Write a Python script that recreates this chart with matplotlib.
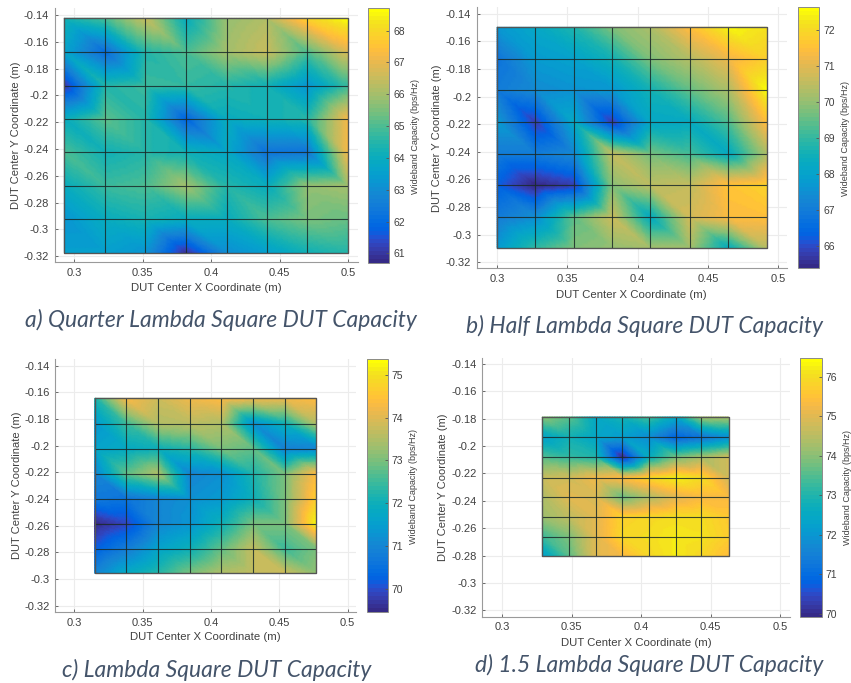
import numpy as np
import matplotlib
matplotlib.use('Agg')
import matplotlib.pyplot as plt
from matplotlib.colors import ListedColormap
from matplotlib.tri import Triangulation, UniformTriRefiner, LinearTriInterpolator

plt.rcParams['font.family'] = ['Liberation Sans', 'DejaVu Sans']

W, H = 851, 683

xticks = [0.3, 0.35, 0.4, 0.45, 0.5]
xticklabels = ['0.3', '0.35', '0.4', '0.45', '0.5']
yticks = [-0.14, -0.16, -0.18, -0.2, -0.22, -0.24, -0.26, -0.28, -0.3, -0.32]
yticklabels = ['-0.14', '-0.16', '-0.18', '-0.2', '-0.22', '-0.24', '-0.26', '-0.28', '-0.3', '-0.32']

# a) quarter lambda
x_a = [0.293, 0.3228, 0.352, 0.3814, 0.4113, 0.4405, 0.4699, 0.4995]
y_a = [-0.1425, -0.1678, -0.1927, -0.2173, -0.2424, -0.2675, -0.2924, -0.3173]
cap_a = [
    [64.3, 65.0, 66.5, 64.0, 65.8, 66.2, 67.9, 68.7],
    [63.6, 62.0, 64.5, 65.0, 66.0, 66.5, 65.0, 66.8],
    [61.0, 64.5, 64.8, 64.7, 64.5, 64.2, 63.2, 64.8],
    [64.0, 65.2, 64.5, 61.8, 64.0, 64.2, 64.5, 67.2],
    [65.0, 64.2, 64.5, 64.2, 63.8, 62.2, 62.3, 67.2],
    [64.0, 64.8, 65.0, 66.0, 64.5, 64.0, 65.8, 66.0],
    [63.2, 64.0, 64.3, 64.0, 64.0, 65.0, 65.5, 65.3],
    [63.5, 63.5, 63.2, 60.9, 63.0, 63.5, 64.2, 64.5],
]

# b) half lambda
x_b = [0.3, 0.3273, 0.3547, 0.382, 0.409, 0.437, 0.4645, 0.4917]
y_b = [-0.1499, -0.1726, -0.1955, -0.2187, -0.2414, -0.2643, -0.2874, -0.3099]
cap_b = [
    [67.7, 68.2, 68.8, 69.8, 70.3, 71.5, 72.5, 72.2],
    [66.8, 67.8, 68.0, 68.6, 69.8, 70.4, 71.2, 71.8],
    [67.0, 67.4, 67.6, 67.7, 68.6, 69.5, 70.3, 72.6],
    [67.8, 65.8, 68.2, 65.8, 68.2, 68.3, 69.3, 71.5],
    [67.0, 67.0, 67.4, 70.6, 69.7, 69.2, 68.3, 70.3],
    [66.3, 65.4, 65.8, 69.9, 70.5, 70.6, 71.6, 71.9],
    [67.0, 67.5, 69.5, 70.7, 68.3, 70.8, 71.4, 71.5],
    [67.8, 69.0, 69.8, 70.0, 70.2, 70.2, 68.3, 70.4],
]

# c) lambda
x_c = [0.3149, 0.338, 0.3612, 0.3844, 0.4076, 0.431, 0.4539, 0.4771]
y_c = [-0.1645, -0.1835, -0.2022, -0.221, -0.2398, -0.2585, -0.2772, -0.2958]
cap_c = [
    [72.2, 74.3, 73.8, 74.2, 74.4, 74.2, 74.2, 74.4],
    [71.4, 72.5, 73.5, 73.6, 73.5, 71.2, 72.0, 73.5],
    [71.6, 71.8, 72.0, 72.3, 73.0, 72.8, 70.9, 71.0],
    [71.0, 72.8, 73.5, 71.0, 71.2, 72.2, 73.0, 74.4],
    [70.7, 70.6, 71.0, 71.2, 71.4, 72.0, 73.0, 74.7],
    [69.5, 69.9, 71.0, 71.3, 72.0, 73.0, 73.0, 75.3],
    [70.2, 70.8, 71.6, 72.0, 72.8, 73.7, 72.5, 73.0],
    [71.0, 71.8, 72.3, 73.0, 73.5, 73.7, 73.8, 73.2],
]

# d) 1.5 lambda
x_d = [0.329, 0.3484, 0.3673, 0.3865, 0.4054, 0.4248, 0.4432, 0.4629]
y_d = [-0.1789, -0.1938, -0.2081, -0.2232, -0.2373, -0.2516, -0.2662, -0.2806]
cap_d = [
    [74.0, 73.6, 72.5, 72.9, 73.4, 72.5, 74.3, 74.4],
    [72.3, 72.8, 72.4, 72.2, 71.8, 70.8, 71.2, 71.8],
    [73.5, 73.2, 73.0, 70.0, 72.6, 73.8, 74.3, 74.8],
    [74.7, 74.8, 75.2, 75.4, 75.9, 76.3, 76.0, 74.8],
    [74.4, 75.0, 74.9, 73.7, 74.4, 75.0, 75.3, 75.3],
    [74.2, 74.6, 75.0, 75.8, 75.9, 76.0, 76.0, 75.6],
    [73.3, 73.9, 75.0, 75.9, 76.0, 76.2, 76.1, 75.7],
    [72.2, 73.6, 75.0, 75.3, 75.9, 76.2, 75.9, 75.4],
]

captions = ['a) Quarter Lambda Square DUT Capacity',
            'b) Half Lambda Square DUT Capacity',
            'c) Lambda Square DUT Capacity',
            'd) 1.5 Lambda Square DUT Capacity']

parula = ListedColormap([
    [0.2081,0.1663,0.5292],[0.2116,0.1898,0.5777],[0.2123,0.2138,0.6270],[0.2081,0.2386,0.6771],
    [0.1959,0.2645,0.7279],[0.1707,0.2919,0.7792],[0.1253,0.3242,0.8303],[0.0591,0.3598,0.8683],
    [0.0117,0.3875,0.8820],[0.0060,0.4086,0.8828],[0.0165,0.4266,0.8786],[0.0329,0.4430,0.8720],
    [0.0498,0.4586,0.8641],[0.0629,0.4737,0.8554],[0.0723,0.4887,0.8467],[0.0779,0.5040,0.8384],
    [0.0793,0.5200,0.8312],[0.0749,0.5375,0.8263],[0.0641,0.5570,0.8240],[0.0488,0.5772,0.8228],
    [0.0343,0.5966,0.8199],[0.0265,0.6137,0.8135],[0.0239,0.6287,0.8038],[0.0231,0.6418,0.7913],
    [0.0228,0.6535,0.7768],[0.0267,0.6642,0.7607],[0.0384,0.6743,0.7436],[0.0590,0.6838,0.7254],
    [0.0843,0.6928,0.7062],[0.1133,0.7015,0.6859],[0.1453,0.7098,0.6646],[0.1801,0.7177,0.6424],
    [0.2178,0.7250,0.6193],[0.2586,0.7317,0.5954],[0.3022,0.7376,0.5712],[0.3482,0.7424,0.5473],
    [0.3953,0.7459,0.5244],[0.4420,0.7481,0.5033],[0.4871,0.7491,0.4840],[0.5300,0.7491,0.4661],
    [0.5709,0.7485,0.4494],[0.6099,0.7473,0.4337],[0.6473,0.7456,0.4188],[0.6834,0.7435,0.4044],
    [0.7184,0.7411,0.3905],[0.7525,0.7384,0.3768],[0.7858,0.7356,0.3633],[0.8185,0.7327,0.3498],
    [0.8507,0.7299,0.3360],[0.8824,0.7274,0.3217],[0.9139,0.7258,0.3063],[0.9450,0.7261,0.2886],
    [0.9739,0.7314,0.2666],[0.9938,0.7455,0.2403],[0.9990,0.7653,0.2164],[0.9955,0.7861,0.1967],
    [0.9880,0.8066,0.1794],[0.9789,0.8271,0.1633],[0.9697,0.8481,0.1475],[0.9626,0.8705,0.1309],
    [0.9589,0.8949,0.1132],[0.9650,0.9350,0.0800],[0.9800,0.9700,0.0500],[0.9950,0.9980,0.0200]])

text_col = '#404040'


def box(l, t, r, b):
    # pixel box, y from the top, to figure fraction
    return [l/W, 1-b/H, (r-l)/W, (b-t)/H]


def panel(fig, ax_box, cb_box, xlim, ylim, clim, x, y, z, xlab_y, ylab_x, cblab_x):
    ax = fig.add_axes(box(*ax_box))
    xx, yy = np.meshgrid(x, y)
    nr, nc = xx.shape
    tris = []
    # same split as the surf plot, diagonal runs upper left to lower right
    for r in range(nr-1):
        for c in range(nc-1):
            ul = r*nc+c
            tris.append([ul, ul+1, ul+nc+1])
            tris.append([ul, ul+nc+1, ul+nc])
    tri = Triangulation(xx.ravel(), yy.ravel(), tris)
    zv = np.array(z).ravel()
    # gouraud mixes rgb between vertices, refine so the colours follow the colormap
    tri2, z2 = UniformTriRefiner(tri).refine_field(zv, LinearTriInterpolator(tri, zv), subdiv=4)
    CS = ax.tripcolor(tri2, z2, shading='gouraud', cmap=parula,
                      vmin=clim[0], vmax=clim[1], zorder=2)
    ax.vlines(x, y[-1], y[0], color='#1a2a2a', lw=0.8, alpha=0.85, zorder=3)
    ax.hlines(y, x[0], x[-1], color='#1a2a2a', lw=0.8, alpha=0.85, zorder=3)
    ax.plot([x[0], x[-1], x[-1], x[0], x[0]], [y[0], y[0], y[-1], y[-1], y[0]],
            color='#555555', lw=0.9, zorder=4)

    ax.set_xlim(xlim)
    ax.set_ylim(ylim)
    ax.set_xticks(xticks)
    ax.set_xticklabels(xticklabels)
    ax.set_yticks(yticks)
    ax.set_yticklabels(yticklabels)
    ax.grid(True, color='#ececec', lw=0.8, zorder=0)
    ax.set_axisbelow(True)
    ax.tick_params(direction='in', length=2.5, width=0.6, color='#555555', labelcolor=text_col,
                   labelsize=8, pad=4)
    ax.spines['top'].set_visible(False)
    ax.spines['right'].set_visible(False)
    ax.spines['left'].set_color('#9a9a9a')
    ax.spines['bottom'].set_color('#9a9a9a')

    fig.text(0.5*(ax_box[0]+ax_box[2])/W, 1-xlab_y/H, 'DUT Center X Coordinate (m)',
             ha='center', va='center', fontsize=8.2, color=text_col)
    fig.text(ylab_x/W, 1-0.5*(ax_box[1]+ax_box[3])/H, 'DUT Center Y Coordinate (m)',
             ha='center', va='center', rotation=90, fontsize=8, color=text_col)

    cax = fig.add_axes(box(*cb_box))
    cbar = fig.colorbar(CS, cax=cax)
    cbar.set_ticks(np.arange(np.ceil(clim[0]), np.floor(clim[1])+1))
    cbar.ax.tick_params(direction='in', length=2.5, width=0.6, color='#555555', labelcolor=text_col,
                        labelsize=7.5, pad=3)
    cbar.outline.set_edgecolor('#8a8a8a')
    cbar.outline.set_linewidth(0.7)
    fig.text(cblab_x/W, 1-0.5*(cb_box[1]+cb_box[3])/H-0.5/H, 'Wideband Capacity (bps/Hz)',
             ha='center', va='center', rotation=90, fontsize=6.5, color=text_col)
    return ax


fig = plt.figure(figsize=(W/100, H/100), dpi=100)

panel(fig, (54.5, 8, 357.7, 262.3), (368.3, 8.3, 389.3, 263),
      (0.2858, 0.5069), (-0.3245, -0.1348), (60.7, 68.7), x_a, y_a, cap_a, 288, 16, 415)
panel(fig, (476.7, 7.3, 786.7, 268.3), (797.7, 7.3, 819.3, 268.3),
      (0.2855, 0.5059), (-0.3243, -0.1354), (65.39, 72.64), x_b, y_b, cap_b, 295, 437, 846)
panel(fig, (55.3, 359.3, 356, 612), (366.7, 359.3, 387.7, 612),
      (0.2861, 0.5061), (-0.3248, -0.1352), (69.46, 75.36), x_c, y_c, cap_c, 637, 17, 413)
panel(fig, (482, 357.7, 789.7, 616.7), (799.7, 357.7, 821.7, 616.7),
      (0.2856, 0.5067), (-0.3246, -0.1356), (69.93, 76.48), x_d, y_d, cap_d, 643, 443, 847)

cap_pos = [(220.5, 320), (645, 326), (217, 670), (649, 665)]
for cap, (cx, cy) in zip(captions, cap_pos):
    fig.text(cx/W, 1-cy/H, cap, ha='center', va='center', family=['Lato', 'DejaVu Sans'],
             style='italic', fontsize=16.5, color='#44546a')

fig.savefig('out.png', dpi=100)
